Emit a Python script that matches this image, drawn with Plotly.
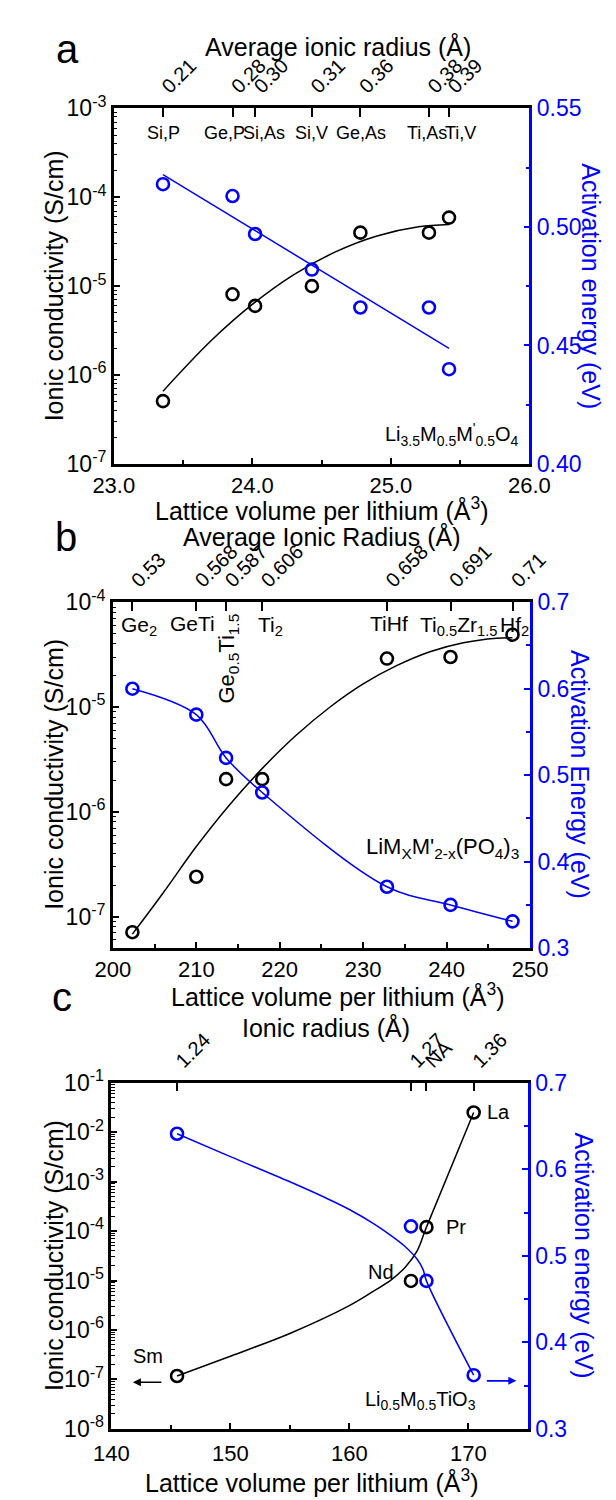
import plotly.graph_objects as go

FONT = "Liberation Sans, Arial, sans-serif"
BLUE = "#0000FF"
W, H = 616, 1500

# ---------------- Panel a : Li3.5M0.5M'0.5O4 ----------------
a_vol = [23.355, 23.857, 24.02, 24.43, 24.78, 25.275, 25.42]
a_sigma = [5.1e-7, 8.1e-6, 6.0e-6, 1.0e-5, 4.0e-5, 4.0e-5, 5.9e-5]
a_ea = [0.518, 0.513, 0.497, 0.482, 0.466, 0.466, 0.440]
a_radius = ["0.21", "0.28", "0.30", "0.31", "0.36", "0.38", "0.39"]
a_names = ["Si,P", "Ge,P", "Si,As", "Si,V", "Ge,As", "Ti,As", "Ti,V"]
# fitted curves
a_fit_vol = [23.355, 23.7, 24.0, 24.3, 24.6, 24.9, 25.2, 25.42]
a_fit_sigma = [6.6e-7, 2.42e-6, 6.24e-6, 1.35e-5, 2.43e-5, 3.67e-5, 4.65e-5, 4.93e-5]
a_fit_ea_vol = [23.355, 25.42]
a_fit_ea = [0.522, 0.4488]

# ---------------- Panel b : LiMxM'2-x(PO4)3 ----------------
b_vol = [202.34, 210.0, 213.57, 217.9, 232.85, 240.47, 247.9]
b_sigma = [7.1e-8, 2.4e-7, 2.05e-6, 2.05e-6, 2.9e-5, 3.0e-5, 4.9e-5]
b_ea = [0.600, 0.570, 0.520, 0.480, 0.371, 0.350, 0.331]
b_radius = ["0.53", "0.568", "0.587", "0.606", "0.658", "0.691", "0.71"]
b_fit_vol = [202.34, 206, 210, 214, 218, 222, 226, 230, 234, 238, 242, 246, 247.9]
b_fit_sigma = [6.8e-8, 1.67e-7, 4.66e-7, 1.17e-6, 2.64e-6, 5.40e-6, 9.95e-6,
               1.66e-5, 2.48e-5, 3.37e-5, 4.11e-5, 4.54e-5, 4.59e-5]

# ---------------- Panel c : Li0.5M0.5TiO3 ----------------
c_vol = [145.52, 165.18, 166.48, 170.45]
c_sigma = [1.17e-7, 9.8e-6, 1.2e-4, 2.5e-2]
c_ea = [0.641, 0.534, 0.471, 0.362]
c_radius = ["1.24", "1.27", "NA", "1.36"]
c_names = ["Sm", "Nd", "Pr", "La"]
c_fit_sigma_vol = [145.52, 150.0, 155.0, 160.0, 162.0, 163.6, 164.7, 165.7, 166.48, 170.45]
c_fit_sigma = [1.17e-7, 2.95e-7, 8.5e-7, 3.1e-6, 6.0e-6, 1.07e-5, 1.86e-5, 3.98e-5, 1.2e-4, 2.5e-2]
c_fit_ea_vol = [145.52, 150.0, 155.0, 158.0, 160.0, 162.0, 163.6, 164.66, 165.7, 166.2, 166.48, 170.45]
c_fit_ea = [0.641, 0.6146, 0.5855, 0.567, 0.5535, 0.5375, 0.5225, 0.511, 0.496, 0.484, 0.471, 0.362]


def px(x):
    return x / W


def py(y):
    return 1 - y / H


fig = go.Figure()

MK = dict(symbol="circle-open", size=12, line=dict(width=2.6))


def add_panel(xb, xt, yl, yr, vol, sig, ea, fit_sx, fit_s, fit_ex, fit_e, ea_spline):
    fig.add_trace(go.Scatter(x=fit_sx, y=fit_s, xaxis=xb, yaxis=yl, mode="lines",
                             line=dict(color="black", width=1.5, shape="spline"),
                             hoverinfo="skip"))
    fig.add_trace(go.Scatter(x=vol, y=sig, xaxis=xb, yaxis=yl, mode="markers",
                             marker=dict(color="black", **MK)))
    if fit_ex is not None:
        fig.add_trace(go.Scatter(x=fit_ex, y=fit_e, xaxis=xt, yaxis=yr, mode="lines",
                                 line=dict(color=BLUE, width=1.5,
                                           shape="spline" if ea_spline else "linear"),
                                 hoverinfo="skip"))
    else:
        fig.add_trace(go.Scatter(x=vol, y=ea, xaxis=xt, yaxis=yr, mode="lines",
                                 line=dict(color=BLUE, width=1.5, shape="spline"),
                                 hoverinfo="skip"))
    fig.add_trace(go.Scatter(x=vol, y=ea, xaxis=xt, yaxis=yr, mode="markers",
                             marker=dict(color=BLUE, **MK)))


add_panel("x", "x2", "y", "y2", a_vol, a_sigma, a_ea, a_fit_vol, a_fit_sigma,
          a_fit_ea_vol, a_fit_ea, False)
add_panel("x3", "x4", "y3", "y4", b_vol, b_sigma, b_ea, b_fit_vol, b_fit_sigma,
          None, None, True)
add_panel("x5", "x6", "y5", "y6", c_vol, c_sigma, c_ea, c_fit_sigma_vol, c_fit_sigma,
          c_fit_ea_vol, c_fit_ea, True)

TICKF = dict(family=FONT, size=23, color="black")
BTICKF = dict(family=FONT, size=22, color="black")
LW = 2.5


def bottom_axis(domain, anchor, rng, dtick, minor, fmt, standoff=0):
    return dict(domain=domain, anchor=anchor, range=rng, showline=True, linecolor="black",
                linewidth=LW, ticks="inside", ticklen=6, tickwidth=1.5, tickcolor="black",
                dtick=dtick, tick0=0, tickformat=fmt, tickfont=BTICKF,
                ticklabelstandoff=standoff,
                minor=dict(dtick=minor, tick0=0, ticks="inside", ticklen=4, tickwidth=1.5,
                           tickcolor="black"),
                showgrid=False, zeroline=False, fixedrange=True)


def top_axis(base, anchor, rng, vals, texts):
    return dict(overlaying=base, anchor=anchor, side="top", range=rng, showline=True,
                linecolor="black", linewidth=LW, ticks="inside", ticklen=9, tickwidth=1.5,
                tickcolor="black", tickmode="array", tickvals=vals, ticktext=texts,
                tickangle=-45, tickfont=dict(family=FONT, size=20, color="black"),
                showgrid=False, zeroline=False, fixedrange=True)


def log_axis(domain, anchor, lo, hi):
    import math
    majors = []
    texts = []
    minors = []
    for d in range(int(math.floor(lo)) - 1, int(math.ceil(hi)) + 1):
        v = 10.0 ** d
        if lo - 1e-9 <= d <= hi + 1e-9:
            majors.append(v)
            texts.append("10<sup>%d</sup>" % d)
        for k in range(2, 10):
            lv = math.log10(k * v)
            if lo - 1e-9 <= lv <= hi + 1e-9:
                minors.append(k * v)
    return dict(domain=domain, anchor=anchor, type="log", range=[lo, hi], showline=True,
                linecolor="black", linewidth=LW, ticks="inside", ticklen=6, tickwidth=1.5,
                tickcolor="black", tickmode="array", tickvals=majors, ticktext=texts,
                tickfont=TICKF,
                minor=dict(tickmode="array", tickvals=minors, ticks="inside", ticklen=3.5,
                           tickwidth=1.2, tickcolor="black"),
                showgrid=False, zeroline=False, fixedrange=True)


def right_axis(base, anchor, rng, dtick, minor, fmt):
    return dict(overlaying=base, anchor=anchor, side="right", range=rng, showline=True,
                linecolor=BLUE, linewidth=LW, ticks="inside", ticklen=6, tickwidth=1.5,
                tickcolor=BLUE, dtick=dtick, tick0=0, tickformat=fmt,
                tickfont=dict(family=FONT, size=23, color=BLUE),
                minor=dict(dtick=minor, tick0=0, ticks="inside", ticklen=4, tickwidth=1.5,
                           tickcolor=BLUE),
                showgrid=False, zeroline=False, fixedrange=True)


# domains from pixel positions
a_xd = [px(91), px(537)]
a_yd = [py(448), py(85)]
b_xd = [px(90), px(537.7)]
b_yd = [py(942), py(589)]
c_xd = [px(88.4), px(535.3)]
c_yd = [py(1432.5), py(1079.3)]

fig.update_layout(
    width=W, height=H, margin=dict(l=0, r=0, t=0, b=0), autosize=False,
    plot_bgcolor="white", paper_bgcolor="white", showlegend=False,
    font=dict(family=FONT, color="black"),
    xaxis=bottom_axis(a_xd, "y", [23.0, 26.0], 1.0, 0.5, ".1f"),
    xaxis2=top_axis("x", "y2", [23.0, 26.0], a_vol, a_radius),
    yaxis=log_axis(a_yd, "x", -7, -3),
    yaxis2=right_axis("y", "x2", [0.40, 0.55], 0.05, 0.025, ".2f"),
    xaxis3=bottom_axis(b_xd, "y3", [200, 250], 10, 5, "d"),
    xaxis4=top_axis("x3", "y4", [200, 250], b_vol, b_radius),
    yaxis3=log_axis(b_yd, "x3", -7.30103, -4),
    yaxis4=right_axis("y3", "x4", [0.3, 0.7], 0.1, 0.05, ".1f"),
    xaxis5=bottom_axis(c_xd, "y5", [140, 175], 10, 5, "d", standoff=3),
    xaxis6=top_axis("x5", "y6", [140, 175], c_vol, c_radius),
    yaxis5=log_axis(c_yd, "x5", -8, -1),
    yaxis6=right_axis("y5", "x6", [0.3, 0.7], 0.1, 0.05, ".1f"),
)

anns = []


def ann(text, x, y, size, color="black", angle=0, xanchor="center"):
    anns.append(dict(text=text, x=px(x), y=py(y), xref="paper",
                     yref="paper", xanchor=xanchor, yanchor="middle", showarrow=False,
                     textangle=angle, font=dict(family=FONT, size=size, color=color)))


# panel letters
ann("a", 41, 24, 40)
ann("b", 40, 522, 40)
ann("c", 35, 992, 40)

# top axis titles
ann("Average ionic radius (Å)", 331.6, 22, 25)
ann("Average Ionic Radius (Å)", 313.5, 522, 25)
ann("Ionic radius (Å)", 319, 1023, 25)

# bottom axis titles
ann("Lattice volume per lithium (Å<sup>3</sup>)", 314, 494, 25)
ann("Lattice volume per lithium (Å<sup>3</sup>)", 331, 990, 25)
ann("Lattice volume per lithium (Å<sup>3</sup>)", 303.5, 1486, 25)

# left axis titles
ann("Ionic conductivity (S/cm)", 27, 266.5, 25, angle=-90)
ann("Ionic conductivity (S/cm)", 27, 765, 25, angle=-90)
ann("Ionic conductivity (S/cm)", 27, 1256, 25, angle=-90)

# right axis titles
ann("Activation energy (eV)", 603, 266.5, 25, color=BLUE, angle=90)
ann("Activation Energy (eV)", 592, 765, 25, color=BLUE, angle=90)
ann("Activation energy (eV)", 596, 1256, 25, color=BLUE, angle=90)

# panel a in-plot labels (pixel centres)
a_label_px = [144.4, 209.8, 251.8, 303.5, 356.6, 427.0, 463.2]
for n, xp in zip(a_names, a_label_px):
    ann(n, xp, 110, 18)
ann("Li<sub>3.5</sub>M<sub>0.5</sub>M<sup>'</sup><sub>0.5</sub>O<sub>4</sub>", 528, 418, 20,
    xanchor="right")

# panel b in-plot labels
ann("Ge<sub>2</sub>", 118, 613, 21)
ann("GeTi", 175.5, 611, 21)
ann("Ge<sub>0.5</sub>Ti<sub>1.5</sub>", 214, 646, 22, angle=-90)
ann("Ti<sub>2</sub>", 259, 613, 21)
ann("TiHf", 386.6, 611, 21)
ann("Ti<sub>0.5</sub>Zr<sub>1.5</sub>", 460.7, 613, 21)
ann("Hf<sub>2</sub>", 521.5, 613, 21)
ann("LiM<sub>X</sub>M'<sub>2-x</sub>(PO<sub>4</sub>)<sub>3</sub>", 444, 840, 22)

# panel c in-plot labels
c_label_px = [(127.7, 1358), (378, 1272), (458, 1227), (504, 1109)]
for n, (xp, yp) in zip(c_names, c_label_px):
    ann(n, xp, yp, 20)
ann("Li<sub>0.5</sub>M<sub>0.5</sub>TiO<sub>3</sub>", 420.5, 1404, 20)

# arrows in panel c
anns.append(dict(text="", x=px(111.5), y=py(1385), xref="paper", yref="paper",
                 ax=30, ay=0, showarrow=True, arrowhead=2, arrowsize=1, arrowwidth=1.6,
                 arrowcolor="black"))
anns.append(dict(text="", x=px(523), y=py(1383.5), xref="paper", yref="paper",
                 ax=-31, ay=0, showarrow=True, arrowhead=2, arrowsize=1, arrowwidth=1.6,
                 arrowcolor=BLUE))

fig.update_layout(annotations=anns)

fig.write_html("out.html")
